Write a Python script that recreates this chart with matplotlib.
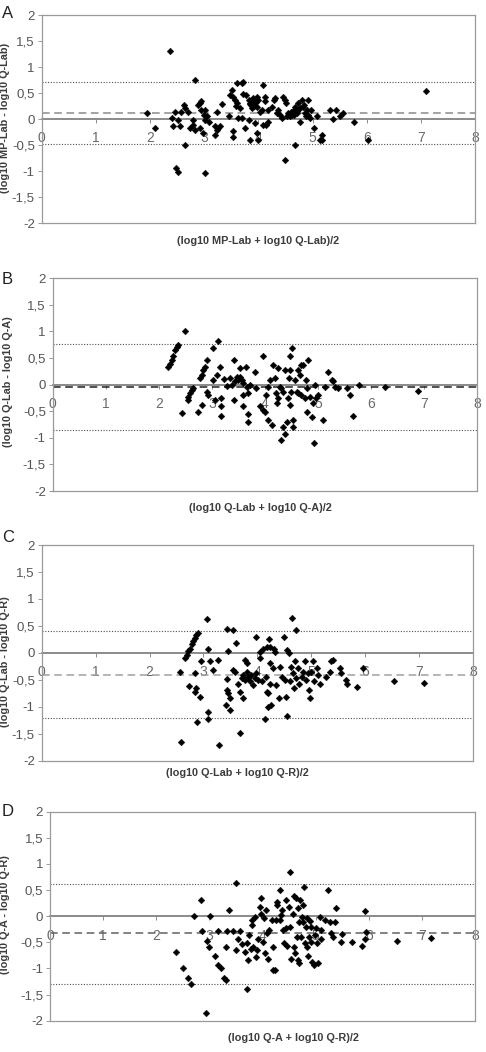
import matplotlib
matplotlib.use("Agg")
import matplotlib.pyplot as plt
from matplotlib.ticker import FuncFormatter

plt.rcParams['font.family'] = ['Liberation Sans', 'DejaVu Sans']

# ---------------- Data ----------------
# Panel A: MP-Lab vs Q-Lab
a_x = [1.94, 2.09, 2.37, 2.40, 2.46, 2.43, 2.52, 2.55, 2.58, 2.65, 2.63, 2.48, 2.52, 2.65, 2.71,
       2.74, 2.80, 2.80, 2.83, 2.83, 2.89, 2.92, 2.95, 2.92, 2.98, 3.00, 3.02, 3.05, 3.02, 2.95,
       3.02, 3.08, 3.20, 3.20, 3.23, 3.26, 3.23, 3.29, 3.32, 3.45, 3.48, 3.52, 3.54, 3.54, 3.54,
       3.57, 3.60, 3.61, 3.63, 3.66, 3.69, 3.71, 3.69, 3.75, 3.78, 3.82, 3.82, 3.85, 3.85, 3.88,
       3.91, 3.94, 3.94, 3.97, 3.98, 4.00, 3.97, 4.00, 4.03, 4.06, 4.09, 4.12, 4.12, 4.09, 4.15,
       4.18, 4.18, 4.25, 4.28, 4.31, 4.34, 4.37, 4.40, 4.43, 4.46, 4.49, 4.51, 4.49, 4.52, 4.55,
       4.58, 4.62, 4.65, 4.68, 4.68, 4.71, 4.74, 4.77, 4.77, 4.80, 4.83, 4.86, 4.89, 4.92, 4.92,
       4.95, 4.98, 5.02, 5.08, 5.17, 5.14, 5.17, 5.32, 5.37, 5.43, 5.51, 5.56, 5.77, 6.03, 7.10,
       3.87, 3.89, 3.92, 3.95, 3.84, 4.60, 4.66, 4.72, 4.84, 4.88, 3.72, 3.58]
a_y = [0.11, -0.18, 1.30, 0.02, 0.14, -0.13, -0.02, -0.14, 0.14, 0.21, 0.27, -0.94, -1.01, -0.50, 0.14,
       -0.18, -0.02, -0.11, 0.75, -0.21, 0.27, 0.30, 0.18, -0.18, -0.27, 0.08, -0.02, 0.05, -1.04, 0.34,
       0.18, -0.05, -0.14, -0.30, -0.21, -0.18, 0.14, -0.14, 0.29, 0.05, 0.46, 0.56, 0.43, -0.24, -0.34,
       0.37, 0.69, 0.30, 0.02, 0.21, 0.69, 0.72, 0.02, -0.18, 0.46, 0.37, -0.02, 0.30, -0.40, 0.21,
       0.40, 0.30, -0.08, 0.43, 0.24, 0.37, -0.27, -0.40, 0.14, 0.18, 0.66, 0.43, 0.34, -0.11, -0.11,
       -0.05, 0.18, 0.24, 0.37, 0.40, 0.11, 0.18, 0.08, 0.02, 0.43, 0.37, 0.30, -0.78, 0.05, 0.11,
       0.05, 0.08, 0.18, 0.24, -0.50, 0.11, 0.30, -0.05, 0.21, 0.37, 0.24, 0.11, 0.18, 0.37, 0.08,
       0.02, 0.18, -0.18, 0.05, -0.30, -0.40, -0.40, 0.18, 0.00, 0.18, 0.05, 0.12, -0.05, -0.40, 0.54,
       0.27, 0.33, 0.25, 0.33, 0.28, 0.14, 0.07, 0.15, 0.27, 0.05, 0.48, 0.25]
a_mean, a_hi, a_lo = 0.12, 0.72, -0.48

# Panel B: Q-Lab vs Q-A
b_x = [2.18, 2.21, 2.24, 2.27, 2.30, 2.34, 2.37, 2.49, 2.43, 2.56, 2.59, 2.62, 2.65, 2.56, 2.74,
       2.78, 2.81, 2.81, 2.84, 2.87, 2.90, 2.91, 2.93, 3.03, 3.03, 3.06, 3.09, 3.12, 3.15, 3.18,
       3.18, 3.18, 3.23, 3.28, 3.34, 3.38, 3.41, 3.41, 3.44, 3.47, 3.50, 3.53, 3.53, 3.56, 3.59,
       3.59, 3.59, 3.64, 3.66, 3.69, 3.69, 3.69, 3.72, 3.81, 3.84, 3.91, 3.97, 3.97, 4.00, 4.03,
       4.06, 4.06, 4.10, 4.13, 4.16, 4.19, 4.21, 4.22, 4.25, 4.25, 4.28, 4.31, 4.31, 4.35, 4.35,
       4.38, 4.38, 4.41, 4.43, 4.45, 4.47, 4.47, 4.48, 4.50, 4.52, 4.53, 4.53, 4.57, 4.60, 4.63,
       4.63, 4.66, 4.69, 4.69, 4.72, 4.75, 4.78, 4.79, 4.79, 4.82, 4.85, 4.88, 4.91, 4.92, 4.95,
       4.97, 5.00, 5.10, 5.13, 5.19, 5.26, 5.29, 5.32, 5.37, 5.54, 5.60, 5.66, 5.78, 6.26, 6.89]
b_y = [0.34, 0.39, 0.46, 0.53, 0.65, 0.70, 0.75, 1.00, -0.53, -0.23, -0.16, -0.10, -0.07, -0.29, -0.51,
       0.12, 0.18, -0.38, 0.28, 0.34, 0.46, -0.13, -0.19, 0.68, 0.09, -0.29, 0.18, 0.82, 0.34, -0.26,
       -0.41, -0.59, 0.11, -0.03, 0.12, 0.00, 0.46, -0.29, 0.06, 0.15, 0.09, 0.31, 0.15, 0.09, 0.03,
       -0.19, -0.41, 0.34, -0.04, -0.16, -0.55, -0.70, -0.01, 0.24, -0.07, -0.41, -0.48, 0.54, -0.51, -0.19,
       -0.04, -0.66, 0.09, -0.76, 0.37, 0.12, -0.16, -0.35, -0.26, 0.31, -0.04, -1.04, -0.07, -0.13, -0.79,
       -0.92, 0.28, -0.70, -0.26, 0.12, -0.38, 0.53, 0.28, -0.13, 0.68, -0.66, -0.79, 0.09, -0.13, 0.28,
       -0.16, 0.18, 0.37, -0.19, 0.37, -0.26, 0.09, -0.07, -0.51, 0.46, -0.23, -0.60, -0.35, -1.09, -0.01,
       -0.26, -0.19, -0.66, -0.04, 0.23, 0.09, 0.06, -0.04, -0.07, -0.07, -0.19, -0.59, -0.01, -0.04, -0.12]
b_mean, b_hi, b_lo = -0.05, 0.77, -0.86

# Panel C: Q-Lab vs Q-R
c_x = [2.56, 2.59, 2.66, 2.69, 2.72, 2.75, 2.78, 2.81, 2.84, 2.87, 2.90, 2.74, 2.84, 2.84, 2.87,
       2.88, 2.93, 2.95, 3.06, 3.09, 3.09, 3.09, 3.12, 3.18, 3.27, 3.29, 3.43, 3.46, 3.43, 3.41,
       3.44, 3.46, 3.49, 3.50, 3.55, 3.55, 3.58, 3.61, 3.65, 3.68, 3.68, 3.71, 3.74, 3.74, 3.77,
       3.77, 3.80, 3.80, 3.83, 3.86, 3.89, 3.92, 3.95, 3.98, 3.98, 4.02, 4.05, 4.05, 4.08, 4.11,
       4.14, 4.16, 4.17, 4.17, 4.20, 4.22, 4.23, 4.23, 4.24, 4.20, 4.26, 4.29, 4.30, 4.32, 4.34,
       4.40, 4.42, 4.45, 4.49, 4.51, 4.54, 4.55, 4.55, 4.59, 4.60, 4.63, 4.65, 4.66, 4.68, 4.69,
       4.71, 4.72, 4.75, 4.77, 4.82, 4.85, 4.88, 4.91, 4.94, 4.96, 4.98, 5.00, 5.03, 5.06, 5.10,
       5.13, 5.16, 5.28, 5.34, 5.37, 5.41, 5.53, 5.56, 5.65, 5.66, 5.84, 5.96, 6.53, 7.10]
c_y = [-0.35, -1.66, -0.10, -0.04, 0.03, 0.08, 0.16, 0.22, 0.27, 0.33, 0.36, -0.62, -0.38, -0.72, -0.66,
       -1.29, -0.82, -0.16, 0.63, 0.07, -1.09, -1.22, -0.16, -0.32, -0.13, -1.70, 0.44, 0.03, -0.69, -0.97,
       -0.49, -0.75, -1.06, -0.84, 0.42, -0.32, -0.35, 0.18, -0.57, -0.73, -1.49, -0.47, -0.41, -0.84, -0.50,
       -0.13, -0.19, -0.35, -0.44, -0.53, -0.41, -0.60, -0.47, 0.29, -0.38, -0.50, 0.02, -0.10, -0.53, 0.08,
       -1.22, -0.44, -0.72, 0.10, -0.75, 0.25, 0.11, -0.19, -0.57, -1.00, -0.97, -0.29, 0.08, 0.02, -0.60,
       -0.83, -0.26, -0.44, 0.30, -0.50, -0.81, -1.17, 0.05, -0.01, -0.53, -0.26, 0.64, -0.38, -0.66, -0.16,
       0.42, -0.47, -0.29, -0.57, -0.44, -0.35, -0.16, -0.50, -0.38, -0.69, -0.84, -0.35, -0.16, -0.53, -0.29,
       -0.41, -0.57, -0.44, -0.35, -0.16, -0.13, -0.29, -0.38, -0.50, -0.57, -0.63, -0.29, -0.52, -0.55]
c_mean, c_hi, c_lo = -0.41, 0.40, -1.21

# Panel D: Q-A vs Q-R
d_x = [2.37, 2.51, 2.59, 2.65, 2.71, 2.84, 2.86, 2.93, 2.95, 3.00, 3.01, 3.10, 3.16, 3.17, 3.21,
       3.27, 3.31, 3.37, 3.31, 3.34, 3.45, 3.50, 3.51, 3.54, 3.58, 3.61, 3.67, 3.70, 3.71, 3.73,
       3.75, 3.78, 3.80, 3.81, 3.83, 3.86, 3.88, 3.89, 3.92, 3.96, 3.98, 3.98, 4.00, 4.03, 4.05,
       4.06, 4.08, 4.11, 4.13, 4.17, 4.19, 4.20, 4.23, 4.25, 4.27, 4.28, 4.32, 4.32, 4.34, 4.36,
       4.38, 4.40, 4.44, 4.45, 4.47, 4.49, 4.52, 4.52, 4.53, 4.57, 4.59, 4.60, 4.61, 4.63, 4.64,
       4.66, 4.67, 4.68, 4.69, 4.71, 4.72, 4.74, 4.76, 4.77, 4.78, 4.80, 4.82, 4.83, 4.84, 4.86,
       4.88, 4.89, 4.91, 4.92, 4.94, 4.96, 4.99, 5.01, 5.03, 5.05, 5.08, 5.10, 5.11, 5.17, 5.23,
       5.27, 5.29, 5.33, 5.36, 5.38, 5.47, 5.49, 5.68, 5.87, 5.92, 5.93, 5.95, 6.54, 7.17]
d_y = [-0.69, -1.00, -1.18, -1.29, 0.01, 0.31, -0.28, -1.85, -0.48, -0.58, 0.01, -0.76, -0.28, -0.94, -1.00,
       -1.18, -1.22, 0.12, -0.58, -0.28, -0.28, 0.64, -0.65, -0.43, -0.28, -0.53, -0.68, -1.40, -0.52, -0.84,
       -0.36, -0.62, -0.17, -0.07, -0.58, -0.01, -0.78, -0.65, -0.43, 0.18, 0.34, 0.05, -0.49, -0.04, -0.71,
       0.12, -0.33, -0.81, -0.26, -0.07, -1.03, -0.58, -1.03, -0.07, 0.28, 0.21, 0.51, -0.07, 0.02, 0.12,
       -0.26, -0.52, -0.23, 0.31, -0.57, 0.18, 0.85, -0.20, -0.81, 0.04, 0.39, -0.58, -0.71, 0.34, -0.39,
       0.15, -0.83, -0.89, -0.11, 0.31, -0.39, -0.01, 0.21, -0.11, 0.55, -0.52, -0.20, -0.03, -0.58, -0.76,
       -0.39, -0.09, -0.49, -0.20, -0.87, -0.94, -0.36, -0.23, -0.52, -0.90, -0.01, -0.43, -0.26, -0.07, 0.50,
       -0.11, -0.33, -0.39, -0.11, 0.15, -0.49, -0.35, -0.49, -0.57, -0.43, 0.09, -0.30, -0.48, -0.41]
d_mean, d_hi, d_lo = -0.33, 0.62, -1.29

x_ticks = [0, 1, 2, 3, 4, 5, 6, 7, 8]
y_ticks = [-2, -1.5, -1, -0.5, 0, 0.5, 1, 1.5, 2]

panels = [
    dict(letter="A", x=a_x, y=a_y, mean=a_mean, hi=a_hi, lo=a_lo,
         xlabel="(log10 MP-Lab + log10 Q-Lab)/2", ylabel="(log10 MP-Lab - log10 Q-Lab)",
         rect=[41.7, 15, 475, 223], xl=(258, 241), yl=(5, 118), lt=(2, 14),
         mean_color="#8a8a8a"),
    dict(letter="B", x=b_x, y=b_y, mean=b_mean, hi=b_hi, lo=b_lo,
         xlabel="(log10 Q-Lab + log10 Q-A)/2", ylabel="(log10 Q-Lab - log10 Q-A)",
         rect=[52.7, 278.3, 477, 491], xl=(260, 508), yl=(8, 382), lt=(2, 279),
         mean_color="#202020"),
    dict(letter="C", x=c_x, y=c_y, mean=c_mean, hi=c_hi, lo=c_lo,
         xlabel="(log10 Q-Lab + log10 Q-R)/2", ylabel="(log10 Q-Lab - log10 Q-R)",
         rect=[41.7, 545, 473, 760.7], xl=(237, 773), yl=(5, 662), lt=(2, 538),
         mean_color="#a0a0a0"),
    dict(letter="D", x=d_x, y=d_y, mean=d_mean, hi=d_hi, lo=d_lo,
         xlabel="(log10 Q-A + log10 Q-R)/2", ylabel="(log10 Q-A - log10 Q-R)",
         rect=[50, 811.7, 475, 1020.7], xl=(293, 1038), yl=(5, 915), lt=(2, 811),
         mean_color="#606060"),
]

W, H = 486, 1052
fig = plt.figure(figsize=(W / 100, H / 100), dpi=100)
fig.patch.set_facecolor("white")

comma = FuncFormatter(lambda v, p: ("%g" % v).replace(".", ","))
tick_col = "#555555"
spine_col = "#9a9a9a"

for p in panels:
    l, t, r, b = p["rect"]
    ax = fig.add_axes([l / W, 1 - b / H, (r - l) / W, (b - t) / H])
    ax.set_xlim(0, 8)
    ax.set_ylim(-2, 2)
    ax.set_yticks(y_ticks)
    ax.yaxis.set_major_formatter(comma)
    ax.tick_params(axis="y", direction="out", length=3, width=0.7, color=spine_col,
                   labelsize=9.5, labelcolor=tick_col, pad=2)
    ax.tick_params(axis="x", bottom=False, labelbottom=False)
    for s in ax.spines.values():
        s.set_color(spine_col)
        s.set_linewidth(0.9)

    # zero axis line with ticks and labels below it
    ax.axhline(0, color="#8c8c8c", lw=1.3, zorder=1)
    sec = ax.secondary_xaxis(0.5)
    sec.set_alignment("bottom")
    sec.set_xticks(x_ticks)
    sec.spines["bottom"].set_color("#8c8c8c")
    sec.spines["bottom"].set_linewidth(1.3)
    sec.tick_params(axis="x", direction="out", length=3, width=0.7, color="#8c8c8c",
                    labelsize=10, labelcolor="#6a6a6a", pad=6)

    ax.axhline(p["hi"], color="#505050", lw=0.8, ls=(0, (1, 1.5)), zorder=1)
    ax.axhline(p["lo"], color="#505050", lw=0.8, ls=(0, (1, 1.5)), zorder=1)
    ax.axhline(p["mean"], color=p["mean_color"], lw=1.1, ls=(0, (5, 3)), zorder=1)

    ax.plot(p["x"], p["y"], "D", ms=3.4, color="black", mec="black", mew=0.3, zorder=3)

    fig.text(p["xl"][0] / W, 1 - p["xl"][1] / H, p["xlabel"], ha="center", va="center",
             fontsize=7.8, fontweight="bold", color="#3c3c3c")
    fig.text(p["yl"][0] / W, 1 - p["yl"][1] / H, p["ylabel"], ha="center", va="center",
             rotation=90, fontsize=7.8, fontweight="bold", color="#3c3c3c")
    fig.text(p["lt"][0] / W, 1 - p["lt"][1] / H, p["letter"], ha="left", va="center",
             fontsize=12, color="#202020")

fig.savefig("out.png", dpi=100, facecolor="white")
